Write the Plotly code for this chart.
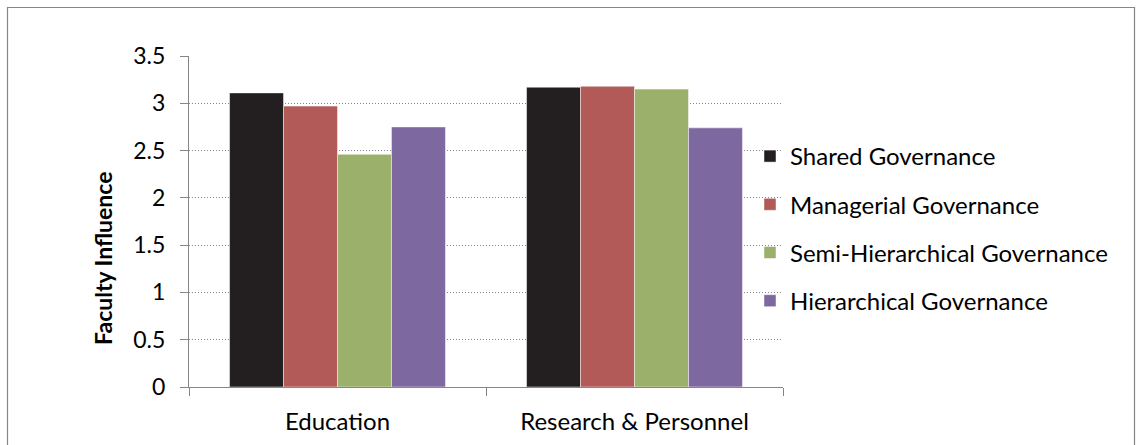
import plotly.graph_objects as go

categories = ["Education", "Research & Personnel"]
series_names = ["Shared Governance", "Managerial Governance",
                "Semi-Hierarchical Governance", "Hierarchical Governance"]
shared = [3.11, 3.17]
managerial = [2.97, 3.18]
semi = [2.46, 3.15]
hierarchical = [2.75, 2.74]
colors = ["#231F20", "#B15A58", "#9BB06A", "#7E68A0"]
y_ticks = [0, 0.5, 1, 1.5, 2, 2.5, 3, 3.5]
y_ticklabels = ["0", "0.5", "1", "1.5", "2", "2.5", "3", "3.5"]
y_title = "Faculty Influence"

values = [shared, managerial, semi, hierarchical]

FONT = "Lato, Calibri, Carlito, sans-serif"
GRID = "#868686"

fig = go.Figure()
for name, vals, col in zip(series_names, values, colors):
    fig.add_trace(go.Bar(
        x=categories, y=vals, name=name, legendgroup=name,
        marker=dict(color=col, line=dict(color="rgba(255,255,255,0.6)", width=0.8)),
    ))

W, H = 1136, 445
L, R, T, B = 189, 783, 56, 387
pw, ph = R - L, B - T

def px(x):
    return (x - L) / pw

def py(y):
    return (B - y) / ph

fig.update_layout(
    width=W, height=H,
    margin=dict(l=L, r=W - R, t=T, b=H - B, pad=0, autoexpand=False),
    paper_bgcolor="white", plot_bgcolor="white",
    barmode="group", bargap=0.273, bargroupgap=0,
    font=dict(family=FONT, size=24, color="#000000"),
    showlegend=True,
    legend=dict(
        x=px(750), y=py(134), xanchor="left", yanchor="top",
        font=dict(family=FONT, size=24, color="#000000"),
        traceorder="grouped", tracegroupgap=14,
        bgcolor="rgba(0,0,0,0)", itemwidth=30,
    ),
    xaxis=dict(
        type="category", range=[-0.5, 1.5], automargin=False,
        showline=True, linecolor=GRID, linewidth=1.3,
        ticks="outside", tickson="boundaries", ticklen=8, tickcolor=GRID,
        showgrid=False, tickfont=dict(family=FONT, size=24),
        ticklabelstandoff=13,
    ),
    yaxis=dict(
        range=[0, 3.5], tickvals=y_ticks, ticktext=y_ticklabels, automargin=False,
        showline=True, linecolor=GRID, linewidth=1.3,
        ticks="outside", ticklen=8, tickcolor=GRID,
        showgrid=True, gridcolor=GRID, griddash="1px,2px", gridwidth=1,
        zeroline=False, tickfont=dict(family=FONT, size=23),
        ticklabelstandoff=10,
    ),
    annotations=[dict(
        text="<b>" + y_title + "</b>", xref="paper", yref="paper",
        x=px(103), y=py(258), xanchor="center", yanchor="middle",
        textangle=-90, showarrow=False,
        font=dict(family=FONT, size=23, color="#000000"),
    )],
    shapes=[dict(
        type="rect", xref="paper", yref="paper",
        x0=px(7.5), x1=px(1134.5), y0=py(460), y1=py(7.5),
        line=dict(color="#868686", width=1.2), fillcolor="rgba(0,0,0,0)",
        layer="below",
    )],
)

fig.write_html("out.html")
